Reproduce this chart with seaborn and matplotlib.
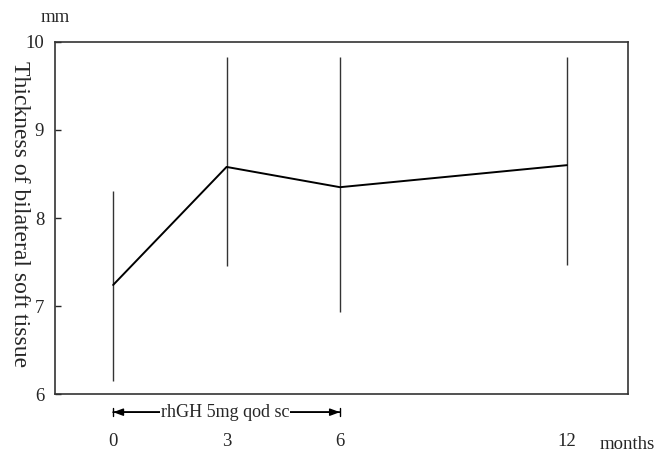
import matplotlib
matplotlib.use("Agg")
import matplotlib.pyplot as plt
import pandas as pd
import seaborn as sns

# data
months = [0, 3, 6, 12]
thickness = [7.24, 8.58, 8.35, 8.60]
err_low = [6.15, 7.45, 6.93, 7.47]
err_high = [8.31, 9.83, 9.83, 9.83]
y_ticks = [6, 7, 8, 9, 10]

df = pd.DataFrame({'month': months, 'thickness': thickness})

sns.set_style('white')
plt.rcParams['font.family'] = ['Liberation Serif', 'DejaVu Serif']

fig, ax = plt.subplots(figsize=(6.58, 4.5), dpi=100)
fig.subplots_adjust(left=0.084, right=0.954, top=0.907, bottom=0.124)

# error bars (vertical lines, no caps)
ax.vlines(months, err_low, err_high, color='#333333', linewidth=1.0, zorder=2)
sns.lineplot(data=df, x='month', y='thickness', color='black', linewidth=1.4,
             ax=ax, zorder=3)

ax.set_xlim(-1.53, 13.61)
ax.set_ylim(6, 10)
ax.set_yticks(y_ticks)
ax.set_yticklabels([str(t) for t in y_ticks], fontsize=13.5)
ax.tick_params(axis='y', direction='in', length=4, width=1, left=True, pad=8)
ax.set_xticks(months)
ax.set_xticklabels([str(m) for m in months], fontsize=13.5)
ax.tick_params(axis='x', length=0, pad=28)
ax.set_xlabel('')
ax.set_ylabel('Thickness of bilateral soft tissue', fontsize=17,
              rotation=270, va='center')
ax.yaxis.set_label_coords(-0.062, 0.51)

for s in ax.spines.values():
    s.set_color('#333333')
    s.set_linewidth(1.2)

# unit labels
ax.text(0.0, 1.068, 'mm', transform=ax.transAxes, fontsize=13.5,
        ha='center', va='center')
ax.text(0.951, -0.142, 'months', transform=ax.transAxes, fontsize=13.5,
        ha='left', va='center')

# treatment period arrow
trans = ax.get_xaxis_transform()
y_arr = -0.051
for a, b in [(0, 6), (6, 0)]:
    ax.annotate('', xy=(a, y_arr), xytext=(b, y_arr), xycoords=trans,
                textcoords=trans, annotation_clip=False,
                arrowprops=dict(arrowstyle='-|>,head_length=0.6,head_width=0.22',
                                color='black', lw=1, shrinkA=0, shrinkB=0))
ax.annotate('', xy=(6, y_arr), xytext=(0, y_arr), xycoords=trans,
            textcoords=trans, annotation_clip=False,
            arrowprops=dict(arrowstyle='|-|,widthA=0.28,widthB=0.28',
                            color='black', lw=1, shrinkA=0, shrinkB=0))
ax.text(2.97, y_arr, 'rhGH 5mg qod sc', transform=trans, fontsize=13,
        ha='center', va='center', zorder=5,
        bbox=dict(facecolor='white', edgecolor='none', pad=0.5))

fig.savefig('out.png', dpi=100)
